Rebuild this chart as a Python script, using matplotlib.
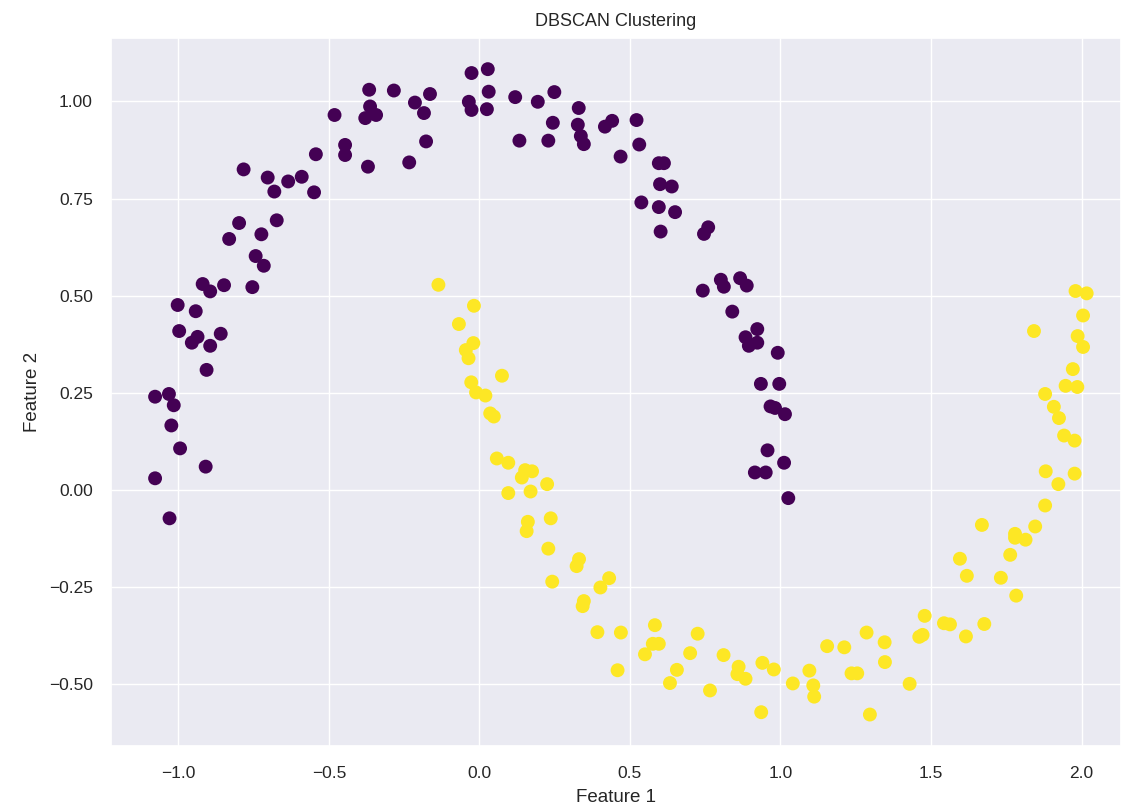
import numpy as np
import matplotlib
matplotlib.use("Agg")
import matplotlib.pyplot as plt
import seaborn as sns

# cluster 0 (upper moon)
moon0_x = [-0.446, -0.446, -0.543, -0.177, -0.233, -0.370, -0.783, -0.703, -0.635, -0.590,
           -0.681, -0.549, -0.798, -0.673, -0.831, -0.724, -0.743, -0.716, -0.919, -0.894,
           -0.848, -0.754, -1.002, -0.942, -0.997, -0.936, -0.859, -0.894, -0.955, -0.906,
           -1.077, -1.031, -1.015, -1.023, -0.994, -0.909, -1.077, -1.029,
           -0.481, -0.366, -0.363, -0.379, -0.343, -0.284, -0.214, -0.164, -0.184, -0.026,
           0.028, -0.035, -0.026, 0.031, 0.025, 0.119, 0.194, 0.249, 0.133, 0.229,
           0.244, 0.330, 0.327, 0.337, 0.347, 0.417, 0.441, 0.469, 0.522, 0.531,
           0.538, 0.596, 0.613, 0.600, 0.639, 0.596, 0.650, 0.602, 0.746, 0.760,
           0.742, 0.802, 0.812, 0.866, 0.888, 0.840, 0.923, 0.884, 0.895, 0.923,
           0.991, 0.935, 0.996, 0.967, 0.982, 1.015, 0.957, 1.012, 0.915, 0.951, 1.026]
moon0_y = [0.888, 0.862, 0.864, 0.897, 0.843, 0.832, 0.825, 0.804, 0.794, 0.806,
           0.768, 0.766, 0.687, 0.694, 0.646, 0.658, 0.602, 0.577, 0.530, 0.511,
           0.527, 0.522, 0.476, 0.460, 0.409, 0.394, 0.402, 0.371, 0.379, 0.309,
           0.240, 0.247, 0.218, 0.166, 0.107, 0.060, 0.030, -0.073,
           0.965, 1.030, 0.987, 0.957, 0.965, 1.028, 0.997, 1.019, 0.970, 1.073,
           1.083, 0.999, 0.978, 1.025, 0.980, 1.011, 0.999, 1.024, 0.899, 0.899,
           0.945, 0.983, 0.940, 0.911, 0.890, 0.935, 0.950, 0.858, 0.952, 0.889,
           0.740, 0.841, 0.841, 0.787, 0.781, 0.728, 0.715, 0.665, 0.659, 0.676,
           0.513, 0.541, 0.523, 0.545, 0.526, 0.459, 0.414, 0.393, 0.371, 0.379,
           0.353, 0.273, 0.273, 0.215, 0.211, 0.195, 0.102, 0.070, 0.045, 0.045, -0.021]

# cluster 1 (lower moon)
moon1_x = [-0.136, -0.018, -0.068, -0.020, -0.045, -0.036, 0.075, -0.027, -0.011, 0.020,
           0.036, 0.048, 0.058, 0.096, 0.152, 0.175, 0.141, 0.225, 0.096, 0.170,
           0.237, 0.161, 0.157, 0.229, 0.331, 0.323, 0.242, 0.431, 0.402, 0.347,
           0.343, 0.392, 0.470, 0.459, 0.583, 0.576, 0.596, 0.550, 0.656, 0.633,
           0.700, 0.725, 0.766, 0.811, 0.861, 0.857, 0.884, 0.940, 0.978, 0.936,
           1.041, 1.096, 1.109, 1.112, 1.155, 1.212, 1.236, 1.255, 1.286, 1.297,
           1.346, 1.347, 1.429, 1.461, 1.472, 1.479, 1.543, 1.563, 1.616, 1.677,
           1.596, 1.619, 1.669, 1.732, 1.763, 1.783, 1.779, 1.779, 1.814, 1.846,
           1.879, 1.980, 2.017, 2.005, 1.842, 1.987, 2.005, 1.971, 1.947, 1.986,
           1.879, 1.908, 1.925, 1.942, 1.977, 1.881, 1.977, 1.923]
moon1_y = [0.528, 0.474, 0.427, 0.378, 0.360, 0.339, 0.294, 0.277, 0.251, 0.243,
           0.197, 0.189, 0.081, 0.070, 0.051, 0.048, 0.032, 0.015, -0.008, -0.004,
           -0.073, -0.082, -0.106, -0.151, -0.178, -0.196, -0.236, -0.227, -0.251, -0.286,
           -0.299, -0.366, -0.367, -0.464, -0.348, -0.396, -0.396, -0.423, -0.463, -0.497,
           -0.420, -0.370, -0.516, -0.425, -0.455, -0.474, -0.486, -0.445, -0.462, -0.572,
           -0.498, -0.465, -0.503, -0.532, -0.402, -0.405, -0.472, -0.472, -0.367, -0.578,
           -0.392, -0.443, -0.499, -0.378, -0.373, -0.324, -0.343, -0.346, -0.377, -0.345,
           -0.177, -0.221, -0.090, -0.226, -0.167, -0.272, -0.113, -0.123, -0.128, -0.094,
           -0.040, 0.512, 0.506, 0.449, 0.409, 0.396, 0.368, 0.311, 0.268, 0.265,
           0.247, 0.214, 0.185, 0.140, 0.127, 0.048, 0.042, 0.015]

x = np.array(moon0_x + moon1_x)
y = np.array(moon0_y + moon1_y)
labels = np.array([0] * len(moon0_x) + [1] * len(moon1_x))

sns.set_theme(style="darkgrid")
plt.rcParams['font.family'] = ['Liberation Sans', 'DejaVu Sans']

fig = plt.figure(figsize=(11.21, 8.10), dpi=100)
ax = fig.add_axes([0.099, 0.079, 0.901, 0.874])

ax.scatter(x, y, c=labels, cmap='viridis', s=100, linewidths=0)
ax.set_xlim(-1.2235, 2.131)
ax.set_ylim(-0.659, 1.163)
ax.set_xticks([-1.0, -0.5, 0.0, 0.5, 1.0, 1.5, 2.0])
ax.set_yticks([-0.5, -0.25, 0.0, 0.25, 0.5, 0.75, 1.0])
ax.tick_params(axis='x', labelsize=12.5, pad=8.5)
ax.tick_params(axis='y', labelsize=12.5, pad=7)

ax.set_title("DBSCAN Clustering", fontsize=13, pad=9)
ax.set_xlabel("Feature 1", fontsize=13.5, labelpad=6)
ax.set_ylabel("Feature 2", fontsize=13.5, labelpad=6)

fig.savefig("out.png", dpi=100)
